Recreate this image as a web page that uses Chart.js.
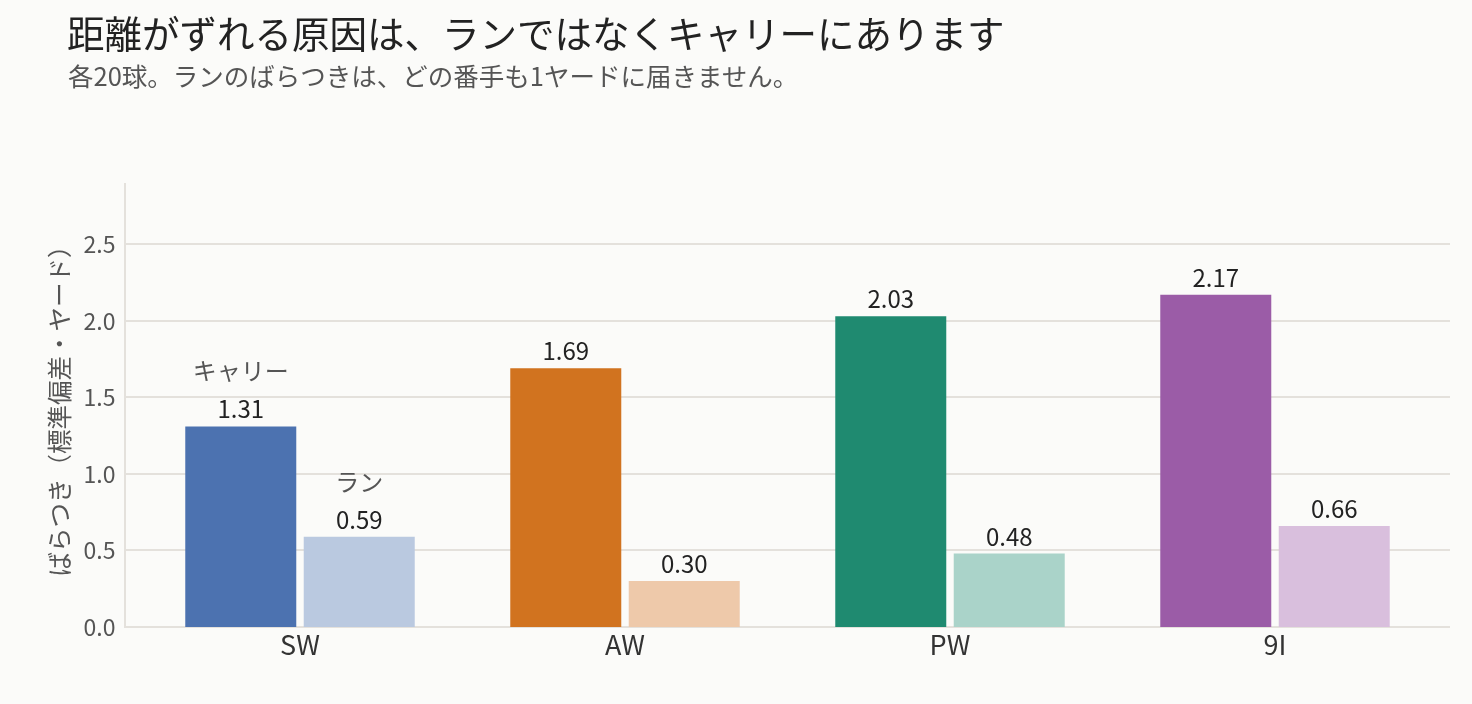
<!DOCTYPE html>
<html lang="ja">
<head>
<meta charset="utf-8">
<script src="https://cdn.jsdelivr.net/npm/chart.js@4"></script>
<style>
  html, body { margin: 0; padding: 0; background: #fbfbf9; }
  #wrap { position: relative; width: 1472px; height: 704px; }
  #chartBox { position: absolute; left: 0; top: 0; width: 1472px; height: 704px; }
  .title { position: absolute; left: 67px; top: 4px; font-family: "Noto Sans CJK JP", sans-serif; font-size: 37.5px; color: #222; white-space: nowrap; }
  .sub { position: absolute; left: 68px; top: 56px; font-family: "Noto Sans CJK JP", sans-serif; font-size: 25.5px; color: #555; white-space: nowrap; }
</style>
</head>
<body>
<div id="wrap">
  <div id="chartBox"><canvas id="myChart"></canvas></div>
  <div class="title">距離がずれる原因は、ランではなくキャリーにあります</div>
  <div class="sub">各20球。ランのばらつきは、どの番手も1ヤードに届きません。</div>
</div>
<script>
const clubs = ['SW', 'AW', 'PW', '9I'];
const carrySpread = [1.31, 1.69, 2.03, 2.17];
const runSpread = [0.59, 0.30, 0.48, 0.66];
const seriesNames = ['キャリー', 'ラン'];
const yTicks = [0, 0.5, 1.0, 1.5, 2.0, 2.5];

const darkColors = ['#4c72b0', '#d1731f', '#1f8a70', '#9b5ca7'];
const lightColors = ['#bac9e0', '#eec9aa', '#aad3c9', '#d9bfdd'];
const gridColor = '#e4e1dc';
const FONT = '"Noto Sans CJK JP", sans-serif';

// grid lines and left spine a little wider than the bar area
const gridPlugin = {
  id: 'grid',
  beforeDatasetsDraw(chart) {
    const c = chart.ctx, a = chart.chartArea, y = chart.scales.y;
    c.save();
    c.strokeStyle = gridColor;
    c.lineWidth = 2;
    yTicks.forEach(v => {
      const py = Math.round(y.getPixelForValue(v));
      c.beginPath();
      c.moveTo(a.left - 12.5, py);
      c.lineTo(a.right + 12.5, py);
      c.stroke();
    });
    c.beginPath();
    c.moveTo(a.left - 12.5, a.top);
    c.lineTo(a.left - 12.5, y.getPixelForValue(0) + 1);
    c.stroke();
    c.restore();
  }
};

const labelPlugin = {
  id: 'vals',
  afterDatasetsDraw(chart) {
    const c = chart.ctx;
    c.save();
    c.textAlign = 'center';
    c.textBaseline = 'alphabetic';
    chart.data.datasets.forEach((ds, i) => {
      const meta = chart.getDatasetMeta(i);
      meta.data.forEach((bar, j) => {
        c.fillStyle = '#222';
        c.font = '24px ' + FONT;
        c.fillText(ds.data[j].toFixed(2), bar.x, bar.y - 8);
        if (j === 0) {
          c.fillStyle = '#555';
          c.font = '24px ' + FONT;
          c.fillText(seriesNames[i], bar.x, bar.y - 46);
        }
      });
    });
    c.restore();
  }
};

const ctx = document.getElementById('myChart').getContext('2d');
const chart = new Chart(ctx, {
  type: 'bar',
  data: {
    labels: clubs,
    datasets: [
      { label: seriesNames[0], data: carrySpread, backgroundColor: darkColors,
        categoryPercentage: 0.729, barPercentage: 0.937 },
      { label: seriesNames[1], data: runSpread, backgroundColor: lightColors,
        categoryPercentage: 0.729, barPercentage: 0.937 }
    ]
  },
  options: {
    responsive: true,
    maintainAspectRatio: false,
    animation: false,
    layout: { padding: { left: 45, top: 183, right: 34.5, bottom: 0 } },
    plugins: {
      legend: { display: false },
      tooltip: { enabled: false }
    },
    scales: {
      x: {
        grid: { display: false, drawTicks: false },
        border: { display: false },
        ticks: { color: '#333', font: { family: FONT, size: 27 }, padding: 2 },
        afterFit(s) { s.height = 77; }
      },
      y: {
        min: 0,
        max: 2.9,
        grid: { display: false, drawTicks: false },
        border: { display: false },
        afterBuildTicks(s) { s.ticks = yTicks.map(v => ({ value: v })); },
        ticks: {
          color: '#555',
          font: { family: FONT, size: 23 },
          padding: 22,
          callback: v => v.toFixed(1)
        },
        title: {
          display: true,
          text: 'ばらつき（標準偏差・ヤード）',
          color: '#555',
          font: { family: FONT, size: 24.5 },
          padding: { top: 0, bottom: 0 }
        },
        afterFit(s) { s.width = 92.5; }
      }
    }
  },
  plugins: [gridPlugin, labelPlugin]
});
</script>
</body>
</html>
